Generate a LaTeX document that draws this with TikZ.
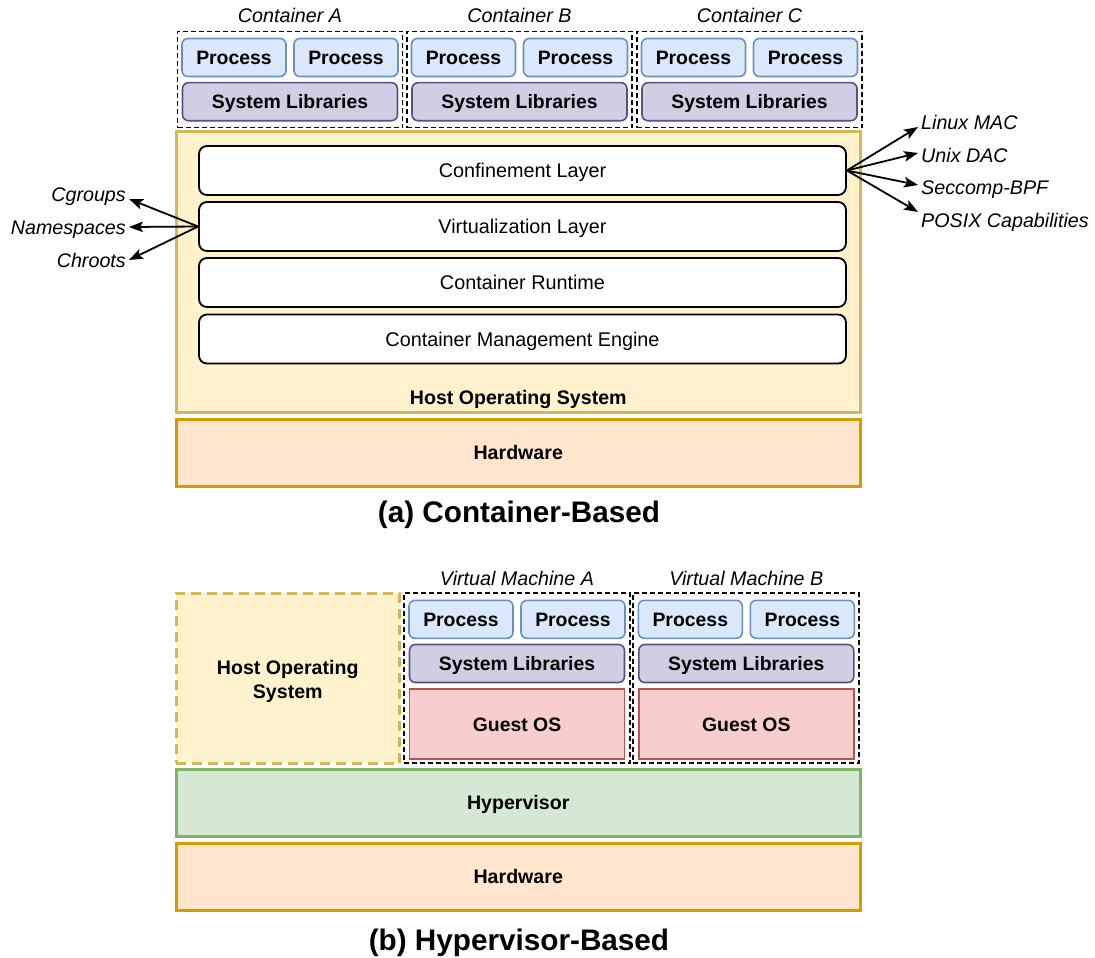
\documentclass[tikz,border=0pt]{standalone}
\usepackage{fontspec}
\setmainfont{Liberation Sans}
\usetikzlibrary{arrows.meta}
\usepackage{xcolor}
\definecolor{procfill}{HTML}{DAE8FC}
\definecolor{procdraw}{HTML}{6C8EBF}
\definecolor{libfill}{HTML}{D0CEE2}
\definecolor{libdraw}{HTML}{56517E}
\definecolor{hostfill}{HTML}{FFF2CC}
\definecolor{hostdraw}{HTML}{D6B656}
\definecolor{hwfill}{HTML}{FFE6CC}
\definecolor{hwdraw}{HTML}{D79B00}
\definecolor{hypfill}{HTML}{D5E8D4}
\definecolor{hypdraw}{HTML}{82B366}
\definecolor{guestfill}{HTML}{F8CECC}
\definecolor{guestdraw}{HTML}{B85450}

\begin{document}
\begin{tikzpicture}[x=1pt,y=-1pt]
	\tikzset{caps/.style = {text height=14pt, text depth=0pt}}
	\tikzset{box/.style = {draw, line width=1.6pt, rounded corners=6pt, inner sep=0pt, caps,
			font=\fontsize{19.4}{23}\selectfont\bfseries}}
	\tikzset{proc/.style = {box, fill=procfill, draw=procdraw, minimum width=104pt, minimum height=38pt}}
	\tikzset{lib/.style = {box, fill=libfill, draw=libdraw, minimum width=215pt, minimum height=38pt}}
	\tikzset{guest/.style = {box, rounded corners=0pt, fill=guestfill, draw=guestdraw, minimum width=215pt, minimum height=70pt}}
	\tikzset{layer/.style = {draw, line width=1.8pt, rounded corners=8pt, fill=white, inner sep=0pt, caps,
			minimum width=647pt, minimum height=49pt, font=\fontsize{19.8}{23}\selectfont}}
	\tikzset{ctr/.style = {draw, dash pattern=on 5pt off 3pt, line width=1.7pt, inner sep=0pt,
			minimum width=225pt, minimum height=96pt}}
	\tikzset{plate/.style = {draw, line width=3pt, inner sep=0pt, minimum width=683.5pt, minimum height=67pt, caps,
			font=\fontsize{19.6}{23}\selectfont\bfseries}}
	\tikzset{note/.style = {inner sep=3pt, caps, font=\fontsize{19.7}{23}\selectfont\itshape}}
	\tikzset{caption/.style = {inner sep=0pt, text height=21.3pt, text depth=0pt, font=\fontsize{29.7}{34}\selectfont\bfseries}}
	\tikzset{edge/.style = {->, > = {Stealth[length=14pt,width=10.5pt,inset=3pt]}, line width=1.8pt}}
	\useasboundingbox (0,0) rectangle (1095,958);

	% (a) containers
	\node[ctr] (ctA) at (290,79.5) {};
	\node[ctr] (ctB) at (519.5,79.5) {};
	\node[ctr] (ctC) at (749.5,79.5) {};
	\node[note] (lblA) at (290,16) {Container A};
	\node[note] (lblB) at (519.5,16) {Container B};
	\node[note] (lblC) at (749.5,16) {Container C};
	\node[proc] (pA1) at (234,57.5) {Process};
	\node[proc] (pA2) at (346,57.5) {Process};
	\node[lib] (libA) at (290,101.7) {System Libraries};
	\node[proc] (pB1) at (463.5,57.5) {Process};
	\node[proc] (pB2) at (575.5,57.5) {Process};
	\node[lib] (libB) at (519.5,101.7) {System Libraries};
	\node[proc] (pC1) at (693.5,57.5) {Process};
	\node[proc] (pC2) at (805.5,57.5) {Process};
	\node[lib] (libC) at (749.5,101.7) {System Libraries};

	% host and layers
	\node[plate, fill=hostfill, draw=hostdraw, minimum height=280.5pt] (host) at (518.25,271.75) {};
	\node[inner sep=0pt, caps, font=\fontsize{19.6}{23}\selectfont\bfseries] (hostlbl) at (518.25,397) {Host Operating System};
	\node[layer] (conf) at (522.5,170.5) {Confinement Layer};
	\node[layer] (virt) at (522.5,226.5) {Virtualization Layer};
	\node[layer] (rt) at (522.5,282.5) {Container Runtime};
	\node[layer] (cme) at (522.5,339) {Container Management Engine};
	\node[plate, fill=hwfill, draw=hwdraw] (hwA) at (518.25,452.5) {Hardware};
	\node[caption] (capA) at (519,512) {(a) Container-Based};

	% mechanisms
	\node[note, anchor=east] (cg) at (129,194) {Cgroups};
	\node[note, anchor=east] (ns) at (129,227) {Namespaces};
	\node[note, anchor=east] (chr) at (129,260) {Chroots};
	\node[note, anchor=west] (mac) at (918,122) {Linux MAC};
	\node[note, anchor=west] (dac) at (918,155) {Unix DAC};
	\node[note, anchor=west] (bpf) at (918,187) {Seccomp-BPF};
	\node[note, anchor=west] (cap) at (918,220) {POSIX Capabilities};
	\draw[edge] (virt.west) -- ([yshift=-5pt]cg.east);
	\draw[edge] (virt.west) -- (ns.east);
	\draw[edge] (virt.west) -- (chr.east);
	\draw[edge] (conf.east) -- ([yshift=-5pt]mac.west);
	\draw[edge] (conf.east) -- ([yshift=2pt]dac.west);
	\draw[edge] (conf.east) -- ([yshift=2pt]bpf.west);
	\draw[edge] (conf.east) -- ([yshift=8pt]cap.west);

	% (b) virtual machines
	\node[draw=hostdraw, fill=hostfill, line width=3pt, dash pattern=on 10pt off 6pt,
		minimum width=223.5pt, minimum height=170pt] (hostB) at (287.75,678) {};
	\node[align=center, inner sep=0pt, font=\fontsize{19.6}{24}\selectfont\bfseries] (hostBlbl) at (287.75,681) {Host Operating\\System};
	\node[ctr, minimum width=226pt, minimum height=170pt] (vmA) at (517,678.3) {};
	\node[ctr, minimum width=226pt, minimum height=170pt] (vmB) at (746.3,678.3) {};
	\node[note] (lblVA) at (517,578) {Virtual Machine A};
	\node[note] (lblVB) at (746.3,578) {Virtual Machine B};
	\node[proc] (vpA1) at (461,619.3) {Process};
	\node[proc] (vpA2) at (573,619.3) {Process};
	\node[lib] (vlibA) at (517,663.5) {System Libraries};
	\node[guest] (gosA) at (517,724) {Guest OS};
	\node[proc] (vpB1) at (690.3,619.3) {Process};
	\node[proc] (vpB2) at (802.3,619.3) {Process};
	\node[lib] (vlibB) at (746.3,663.5) {System Libraries};
	\node[guest] (gosB) at (746.3,724) {Guest OS};
	\node[plate, fill=hypfill, draw=hypdraw] (hyp) at (518.25,802.5) {Hypervisor};
	\node[plate, fill=hwfill, draw=hwdraw] (hwB) at (518.25,876.5) {Hardware};
	\node[caption] (capB) at (519,940) {(b) Hypervisor-Based};
\end{tikzpicture}
\end{document}
